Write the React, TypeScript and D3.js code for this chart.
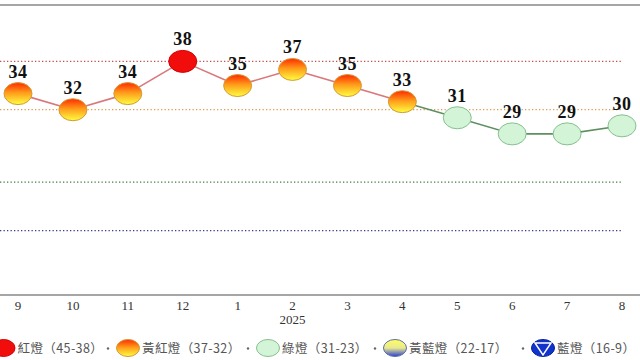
import { useEffect, useRef } from "react";
import * as d3 from "d3";

// monthly composite score (景氣對策信號)
const months = ["9", "10", "11", "12", "1", "2", "3", "4", "5", "6", "7", "8"];
const scores = [34, 32, 34, 38, 35, 37, 35, 33, 31, 29, 29, 30];
const yearLabel = { month: "2", text: "2025" };

// threshold lines (bottom of each light band)
const thresholds = [38, 32, 23, 17];
const thresholdColors = ["#c0504d", "#e39a55", "#3f7f3f", "#3a3a8c"];

// legend
const legendLabels = ["紅燈（45-38）", "黃紅燈（37-32）", "綠燈（31-23）", "黃藍燈（22-17）", "藍燈（16-9）"];
const legendKinds = ["red", "yr", "green", "yb", "blue"];

const W = 640;
const H = 360;
// legend icon centres, spaced as in the original
const legendX = [3.5, 128, 268, 395, 543];

function kindOf(v: number) {
  if (v >= 38) return "red";
  if (v >= 32) return "yr";
  if (v >= 23) return "green";
  if (v >= 17) return "yb";
  return "blue";
}

function fillOf(kind: string) {
  if (kind === "red") return "#f20d0d";
  if (kind === "yr") return "url(#gYR)";
  if (kind === "green") return "#d3f4d6";
  if (kind === "yb") return "url(#gYB)";
  return "#1133cc";
}

function strokeOf(kind: string) {
  if (kind === "red") return "#d40000";
  if (kind === "yr") return "#d29a3a";
  if (kind === "green") return "#86c08f";
  if (kind === "yb") return "#5a6fb0";
  return "#0a2299";
}

export default function App() {
  const svgRef = useRef<SVGSVGElement | null>(null);

  useEffect(() => {
    if (!svgRef.current) return;
    const svg = d3.select(svgRef.current);
    svg.selectAll("*").remove();

    const defs = svg.append("defs");
    const gyr = defs.append("linearGradient").attr("id", "gYR").attr("x1", 0).attr("y1", 0).attr("x2", 0).attr("y2", 1);
    gyr.append("stop").attr("offset", "0%").attr("stop-color", "#ff2a00");
    gyr.append("stop").attr("offset", "45%").attr("stop-color", "#ff9a1a");
    gyr.append("stop").attr("offset", "100%").attr("stop-color", "#ffff40");
    const gyb = defs.append("linearGradient").attr("id", "gYB").attr("x1", 0).attr("y1", 0).attr("x2", 0).attr("y2", 1);
    gyb.append("stop").attr("offset", "0%").attr("stop-color", "#ffff60");
    gyb.append("stop").attr("offset", "50%").attr("stop-color", "#e8e890");
    gyb.append("stop").attr("offset", "100%").attr("stop-color", "#2a3fd0");

    const x = d3.scalePoint<string>().domain(months).range([18, 622]);
    const y = d3.scaleLinear().domain([9, 45]).range([295, 5]);

    // frame lines
    svg.append("line").attr("x1", 0).attr("x2", W).attr("y1", y(45)).attr("y2", y(45))
      .attr("stroke", "#a6a6a6").attr("stroke-width", 2);
    svg.append("line").attr("x1", 0).attr("x2", W).attr("y1", y(9)).attr("y2", y(9))
      .attr("stroke", "#a6a6a6").attr("stroke-width", 2);

    // threshold dotted lines
    svg.append("g")
      .selectAll("line")
      .data(thresholds)
      .join("line")
      .attr("x1", 0)
      .attr("x2", 622)
      .attr("y1", (d) => y(d))
      .attr("y2", (d) => y(d))
      .attr("stroke", (_, i) => thresholdColors[i])
      .attr("stroke-width", 1.3)
      .attr("stroke-dasharray", "1.3 2.2");

    // month labels
    svg.append("g")
      .selectAll("text")
      .data(months)
      .join("text")
      .attr("x", (d) => x(d)!)
      .attr("y", 310)
      .attr("text-anchor", "middle")
      .attr("font-family", "'Liberation Serif', serif")
      .attr("font-size", 13)
      .attr("fill", "#333")
      .text((d) => d);

    svg.append("text")
      .attr("x", x(yearLabel.month)!)
      .attr("y", 324)
      .attr("text-anchor", "middle")
      .attr("font-family", "'Liberation Serif', serif")
      .attr("font-size", 13)
      .attr("fill", "#333")
      .text(yearLabel.text);

    // connecting segments
    const pts = scores.map((v, i) => ({ v, m: months[i] }));
    svg.append("g")
      .selectAll("line")
      .data(pts.slice(1))
      .join("line")
      .attr("x1", (_, i) => x(pts[i].m)!)
      .attr("y1", (_, i) => y(pts[i].v))
      .attr("x2", (d) => x(d.m)!)
      .attr("y2", (d) => y(d.v))
      .attr("stroke", (d) => (kindOf(d.v) === "green" ? "#5e8f60" : "#d9777a"))
      .attr("stroke-width", 1.6);

    // markers
    svg.append("g")
      .selectAll("ellipse")
      .data(pts)
      .join("ellipse")
      .attr("cx", (d) => x(d.m)!)
      .attr("cy", (d) => y(d.v))
      .attr("rx", 14)
      .attr("ry", 11)
      .attr("fill", (d) => fillOf(kindOf(d.v)))
      .attr("stroke", (d) => strokeOf(kindOf(d.v)))
      .attr("stroke-width", 1);

    // value labels
    svg.append("g")
      .selectAll("text")
      .data(pts)
      .join("text")
      .attr("x", (d) => x(d.m)!)
      .attr("y", (d) => y(d.v) - 16)
      .attr("text-anchor", "middle")
      .attr("font-family", "'Liberation Serif', serif")
      .attr("font-weight", "bold")
      .attr("font-size", 18)
      .attr("letter-spacing", 0.5)
      .attr("fill", "#111")
      .text((d) => d.v);

    // legend
    const lg = svg.append("g").attr("transform", "translate(0,348)");
    legendLabels.forEach((lab, i) => {
      const kind = legendKinds[i];
      const cx = legendX[i];
      lg.append("ellipse")
        .attr("cx", cx)
        .attr("cy", 0)
        .attr("rx", 11.5)
        .attr("ry", 8.5)
        .attr("fill", fillOf(kind))
        .attr("stroke", strokeOf(kind))
        .attr("stroke-width", 1);
      if (kind === "blue") {
        lg.append("path")
          .attr("d", `M${cx - 8},${-5} L${cx + 8},${-5} L${cx},${7} Z`)
          .attr("fill", "#1133cc")
          .attr("stroke", "#fff")
          .attr("stroke-width", 1.5);
      }
      lg.append("text")
        .attr("x", cx + 14)
        .attr("y", 4.5)
        .attr("font-family", "'Noto Sans CJK TC', sans-serif")
        .attr("font-size", 12.5)
        .attr("letter-spacing", 0.4)
        .attr("fill", "#555")
        .text(lab);
      if (i < legendLabels.length - 1) {
        lg.append("circle")
          .attr("cx", legendX[i + 1] - 20)
          .attr("cy", 0.5)
          .attr("r", 1.2)
          .attr("fill", "#666");
      }
    });
  }, []);

  return (
    <svg
      ref={svgRef}
      width={W}
      height={H}
      style={{ position: "absolute", left: 0, top: 0, background: "#fff" }}
    />
  );
}
